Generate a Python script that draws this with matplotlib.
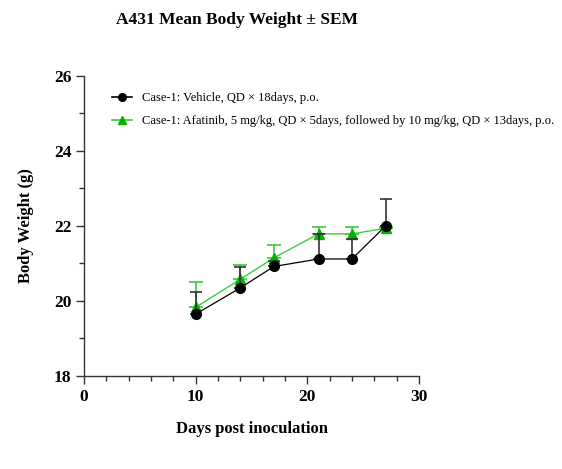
import numpy as np
import matplotlib
matplotlib.use('Agg')
import matplotlib.pyplot as plt
from matplotlib.ticker import MultipleLocator
from matplotlib.lines import Line2D

plt.rcParams['font.family'] = ['Liberation Serif', 'DejaVu Serif']

days = [10, 14, 17, 21, 24, 27]
vehicle_mean = [19.65, 20.35, 20.92, 21.12, 21.12, 22.0]
vehicle_sem = [0.58, 0.55, 0.15, 0.66, 0.54, 0.73]
afatinib_mean = [19.83, 20.58, 21.15, 21.79, 21.79, 21.94]
afatinib_sem = [0.67, 0.37, 0.35, 0.18, 0.18, 0.02]

label_vehicle = 'Case-1: Vehicle, QD \u00d7 18days, p.o.'
label_afatinib = ('Case-1: Afatinib, 5 mg/kg, QD \u00d7 5days, followed by 10 mg/kg, '
                  'QD \u00d7 13days, p.o.')

fig = plt.figure(figsize=(5.62, 4.69), dpi=100)
ax = fig.add_axes([84 / 562, 1 - 376 / 469, 335 / 562, 300 / 469])

green_line = '#3ccc3c'
green_mark = '#00b400'

ax.errorbar(days, vehicle_mean, yerr=[np.zeros(len(days)), vehicle_sem],
            color='black', lw=0.9, marker='o', ms=7, mfc='black', mec='black',
            ecolor='#333333', elinewidth=1.2, capsize=4, capthick=1.2, zorder=3)
ax.errorbar(days, afatinib_mean, yerr=[np.zeros(len(days)), afatinib_sem],
            color=green_line, lw=1.0, marker='^', ms=7, mfc=green_mark, mec=green_mark,
            ecolor=green_line, elinewidth=1.2, capsize=5, capthick=1.2, zorder=2)

ax.set_xlim(0, 30)
ax.set_ylim(18, 26)
ax.xaxis.set_major_locator(MultipleLocator(10))
ax.xaxis.set_minor_locator(MultipleLocator(2))
ax.yaxis.set_major_locator(MultipleLocator(2))
ax.yaxis.set_minor_locator(MultipleLocator(1))
ax.spines['top'].set_visible(False)
ax.spines['right'].set_visible(False)
for s in ['left', 'bottom']:
    ax.spines[s].set_linewidth(1.0)
    ax.spines[s].set_color('#333333')
ax.tick_params(which='major', length=6, width=1.0, color='#333333', labelsize=12.5, pad=3)
ax.tick_params(which='minor', length=3.5, width=1.0, color='#333333')
for t in ax.get_xticklabels() + ax.get_yticklabels():
    t.set_fontweight('bold')

ax.set_xlabel('Days post inoculation', fontsize=12, fontweight='bold', labelpad=12)
ax.set_ylabel('Body Weight (g)', fontsize=12, fontweight='bold', labelpad=14)

fig.text(237 / 562, 1 - 20 / 469, 'A431 Mean Body Weight \u00b1 SEM', ha='center', va='center',
         fontsize=12.5, fontweight='bold')

handles = [
    Line2D([], [], color='black', lw=1.2, marker='o', ms=5.5, mfc='black', mec='black'),
    Line2D([], [], color=green_line, lw=1.2, marker='^', ms=6, mfc=green_mark, mec=green_mark),
]
ax.legend(handles, [label_vehicle, label_afatinib], loc='upper left',
          bbox_to_anchor=(0.083, 0.945), frameon=False, fontsize=9.0,
          handlelength=1.6, handletextpad=0.8, labelspacing=0.85,
          borderpad=0, borderaxespad=0)

fig.savefig('out.png', dpi=100)
